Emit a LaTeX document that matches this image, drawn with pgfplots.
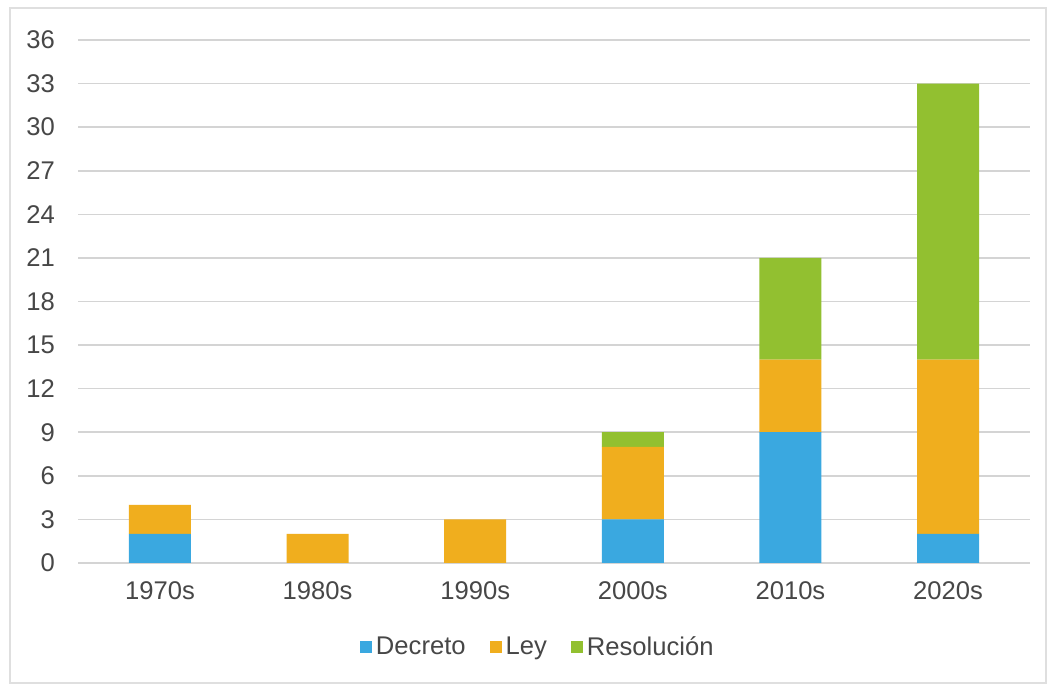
\documentclass[border=0pt]{standalone}
\usepackage{fontspec}
\setmainfont{Liberation Sans}
\usepackage{pgfplots}
\pgfplotsset{compat=1.18}

\definecolor{decreto}{HTML}{3AA8E0}
\definecolor{ley}{HTML}{F0AE1E}
\definecolor{resol}{HTML}{92C030}
\definecolor{txt}{HTML}{474747}
\definecolor{gridc}{HTML}{D4D4D4}

\begin{document}
\begin{tikzpicture}
% page = 1051 x 688 px, 1px = 0.5pt
\useasboundingbox (0pt,0pt) rectangle (525.5pt,344pt);
\fill[white] (0pt,0pt) rectangle (525.5pt,344pt);
\draw[gray!25, line width=1.2pt] (5pt,2.5pt) rectangle (523pt,340pt);
\begin{axis}[
    at={(39pt,62.5pt)}, anchor=south west,
    scale only axis,
    width=476pt, height=261.5pt,
    ybar stacked,
    bar width=31pt,
    xmin=-0.52, xmax=5.52,
    ymin=0, ymax=36,
    ytick={0,3,...,36},
    xtick={0,1,2,3,4,5},
    xticklabels={1970s,1980s,1990s,2000s,2010s,2020s},
    axis line style={draw=none},
    major tick length=0pt,
    ymajorgrids,
    grid style={gridc, line width=0.8pt},
    tick label style={font=\fontsize{12.8}{15}\selectfont, text=txt},
    /pgf/number format/assume math mode=true,
    yticklabel style={xshift=-8pt},
    xticklabel style={yshift=-6pt},
    legend style={
        at={(0.484,-0.161)}, anchor=center,
        draw=none, fill=none,
        legend columns=-1,
        font=\fontsize{12.8}{15}\selectfont,
        text=txt,
        /tikz/every even column/.append style={column sep=10pt},
    },
    legend image code/.code={\fill[#1] (0pt,-3pt) rectangle (6pt,3pt);},
]
\addplot[fill=decreto, draw=none] coordinates {(0,2) (1,0) (2,0) (3,3) (4,9) (5,2)};
\addplot[fill=ley, draw=none] coordinates {(0,2) (1,2) (2,3) (3,5) (4,5) (5,12)};
\addplot[fill=resol, draw=none] coordinates {(0,0) (1,0) (2,0) (3,1) (4,7) (5,19)};
\legend{Decreto,Ley,Resolución}
\end{axis}
\end{tikzpicture}
\end{document}
